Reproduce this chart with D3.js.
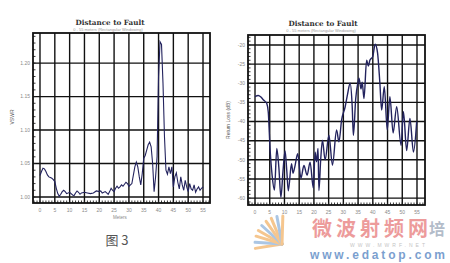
<!DOCTYPE html>
<html><head><meta charset="utf-8">
<script src="https://cdn.jsdelivr.net/npm/d3@7"></script>
<style>html,body{margin:0;padding:0;background:#fff;}svg{display:block;}</style>
</head><body>
<script>
// ---- data ----
const xTicks = [0,5,10,15,20,25,30,35,40,45,50,55];
const vswrTicks = [1.00,1.05,1.10,1.15,1.20];
const vswrTickLabels = ["1.00","1.05","1.10","1.15","1.20"];
const rlTicks = [-60,-55,-50,-45,-40,-35,-30,-25,-20];
const rlTickLabels = ["-60","-55","-50","-45","-40","-35","-30","-25","-20"];

const vswrMeters = [0,0.5,1,1.5,2,2.5,3,3.5,4,4.5,5,5.5,6,6.5,7,7.5,8,8.5,9,10,10.5,11,11.5,12,12.5,13,13.5,14,15,16,17,18,19,20,20.5,21,22,22.5,23,23.5,24,24.5,25,25.5,26,26.5,27,27.5,28,28.5,29,29.5,30,31,32,32.5,33,33.5,34,34.5,35,35.5,36,36.5,37,37.5,38,38.5,39,39.5,40,40.5,41,41.5,42,42.5,43,43.5,44,44.5,45,45.5,46,46.5,47,47.5,48,48.5,49,49.5,50,50.5,51,51.5,52,52.5,53,53.5,54,54.5,55];
const vswrValues = [1.032,1.038,1.043,1.042,1.038,1.033,1.030,1.029,1.028,1.026,1.023,1.013,1.005,1.001,1.004,1.008,1.010,1.008,1.005,1.007,1.005,1.003,1.002,1.006,1.009,1.007,1.004,1.006,1.007,1.006,1.005,1.006,1.009,1.008,1.009,1.006,1.008,1.006,1.004,1.008,1.013,1.010,1.008,1.013,1.016,1.013,1.015,1.018,1.016,1.019,1.022,1.020,1.016,1.020,1.045,1.052,1.045,1.030,1.018,1.035,1.058,1.062,1.070,1.078,1.082,1.075,1.050,1.008,1.030,1.060,1.180,1.232,1.228,1.170,1.090,1.040,1.034,1.045,1.035,1.045,1.015,1.030,1.036,1.022,1.012,1.030,1.018,1.010,1.025,1.015,1.008,1.020,1.012,1.010,1.018,1.007,1.012,1.015,1.010,1.013,1.015];

const rlMeters = [0,1.1,2,2.8,3.5,4,4.5,5.1,5.8,6.6,7.4,8.1,8.8,9.5,10.2,10.8,11.3,12.4,12.9,13.6,14.5,15.6,16.6,17.7,18.7,19.8,20.4,20.9,21.4,21.7,22.3,22.9,23.8,25.1,26.3,27.7,28.5,29.4,30.6,31.4,32.3,33.0,33.4,34.2,34.9,35.3,36.0,36.4,37.0,37.9,38.5,39.0,40.0,40.8,41.6,42.4,43.0,43.9,44.9,45.8,46.9,48.1,49.6,50.4,51.5,52.6,53.8,54.9];
const rlValues = [-33.5,-33.2,-33.6,-34.3,-34.8,-35.3,-37.5,-47,-54,-57.9,-47,-52,-59.8,-53,-47.7,-53,-58.1,-51,-53.5,-51.5,-48.4,-54.8,-51.5,-54,-50.6,-57.4,-48,-50.5,-47,-58,-50,-44.9,-50,-43.6,-51.4,-42.2,-45.3,-39.6,-36.2,-33,-30,-36,-43.6,-34,-30,-28.7,-31.5,-29.7,-34,-24,-25.5,-24,-23,-19.8,-22,-30,-37,-30.9,-42.2,-33.5,-43,-36.1,-46.2,-37.4,-47.6,-39.2,-48,-40];

// ---- drawing ----
const W = 450, H = 263;
const svg = d3.select("body").append("svg").attr("width", W).attr("height", H);
svg.append("rect").attr("width", W).attr("height", H).attr("fill", "#fff");

function drawChart(cfg) {
  const g = svg.append("g");
  const x = d3.scaleLinear().domain(cfg.xDomain).range([cfg.left, cfg.right]);
  const y = d3.scaleLinear().domain(cfg.yDomain).range([cfg.bottom, cfg.top]);
  g.selectAll(".vg").data(xTicks).enter().append("line")
    .attr("x1", d => x(d)).attr("x2", d => x(d))
    .attr("y1", cfg.top).attr("y2", cfg.bottom)
    .attr("stroke", "#111").attr("stroke-width", 1.4);
  g.selectAll(".hg").data(cfg.yTicks).enter().append("line")
    .attr("x1", cfg.left).attr("x2", cfg.right)
    .attr("y1", d => y(d)).attr("y2", d => y(d))
    .attr("stroke", "#111").attr("stroke-width", 1.4);
  const xm = d3.range(Math.ceil(cfg.xDomain[0]), cfg.xDomain[1], 1);
  g.selectAll(".xm").data(xm).enter().append("line")
    .attr("x1", d => x(d)).attr("x2", d => x(d))
    .attr("y1", cfg.bottom).attr("y2", cfg.bottom - 2.5)
    .attr("stroke", "#222").attr("stroke-width", 0.9);
  const ym = d3.range(cfg.yMinorStart, cfg.yDomain[1], cfg.yMinorStep);
  g.selectAll(".ym").data(ym).enter().append("line")
    .attr("x1", cfg.left).attr("x2", cfg.left + 2.5)
    .attr("y1", d => y(d)).attr("y2", d => y(d))
    .attr("stroke", "#222").attr("stroke-width", 0.9);
  const line = d3.line().x(d => x(d[0])).y(d => y(d[1])).curve(cfg.curve);
  g.append("path").datum(cfg.xs.map((m, i) => [m, cfg.ys[i]]))
    .attr("d", line).attr("fill", "none")
    .attr("stroke", "#23235e").attr("stroke-width", cfg.lw);
  g.append("rect").attr("x", cfg.left).attr("y", cfg.top)
    .attr("width", cfg.right - cfg.left).attr("height", cfg.bottom - cfg.top)
    .attr("fill", "none").attr("stroke", "#111").attr("stroke-width", 1.8);
  g.selectAll(".xl").data(xTicks).enter().append("text")
    .attr("x", d => x(d)).attr("y", cfg.bottom + 8.5)
    .attr("text-anchor", "middle").attr("font-family", "Liberation Sans, Arial, sans-serif")
    .attr("font-size", 5).attr("fill", "#8a8a8a").text(d => d);
  g.selectAll(".yl").data(cfg.yTicks).enter().append("text")
    .attr("x", cfg.left - 3).attr("y", d => y(d) + 1.7)
    .attr("text-anchor", "end").attr("font-family", "Liberation Sans, Arial, sans-serif")
    .attr("font-size", 5).attr("fill", "#8a8a8a").text((d, i) => cfg.yTickLabels[i]);
  g.append("text").attr("x", cfg.titleX).attr("y", cfg.titleY)
    .attr("text-anchor", "middle").attr("font-family", "DejaVu Serif, serif")
    .attr("font-weight", "bold").attr("font-size", 7.2).attr("fill", "#333")
    .text("Distance to Fault");
  g.append("text").attr("x", cfg.titleX - 2).attr("y", cfg.titleY + 6)
    .attr("text-anchor", "middle").attr("font-family", "Liberation Sans, Arial, sans-serif")
    .attr("font-size", 4).attr("fill", "#9a9a9a")
    .text("0 - 55 meters (Rectangular Windowing)");
  g.append("text")
    .attr("transform", `translate(${cfg.yLabelX},${cfg.yLabelY}) rotate(-90)`)
    .attr("text-anchor", "middle").attr("font-family", "Liberation Sans, Arial, sans-serif")
    .attr("font-size", 5).attr("fill", "#555").text(cfg.yLabel);
  if (cfg.xLabel) {
    g.append("text").attr("x", cfg.xLabelX).attr("y", cfg.bottom + 16)
      .attr("text-anchor", "middle").attr("font-family", "Liberation Sans, Arial, sans-serif")
      .attr("font-size", 4.5).attr("fill", "#8a8a8a").text(cfg.xLabel);
  }
}

drawChart({
  left: 33, right: 210, top: 33, bottom: 203,
  xDomain: [-2.36, 57.36], yDomain: [0.991, 1.245],
  yTicks: vswrTicks, yTickLabels: vswrTickLabels,
  yMinorStart: 1.00, yMinorStep: 0.01,
  xs: vswrMeters, ys: vswrValues, curve: d3.curveLinear, lw: 1.1,
  titleX: 110, titleY: 25, yLabel: "VSWR", yLabelX: 14, yLabelY: 117,
  xLabel: "Meters", xLabelX: 120
});

drawChart({
  left: 248, right: 425, top: 35, bottom: 205,
  xDomain: [-2.38, 57.72], yDomain: [-61.8, -17.4],
  yTicks: rlTicks, yTickLabels: rlTickLabels,
  yMinorStart: -61, yMinorStep: 1,
  xs: rlMeters, ys: rlValues, curve: d3.curveMonotoneX, lw: 1.4,
  titleX: 323, titleY: 26, yLabel: "Return Loss (dB)", yLabelX: 230, yLabelY: 120,
  xLabel: null
});

// caption
svg.append("text").attr("x", 117).attr("y", 245).attr("text-anchor", "middle")
  .attr("font-family", "Noto Sans CJK SC, sans-serif").attr("font-size", 13)
  .attr("fill", "#555").text("图 3");

// watermark
const wm = svg.append("g").attr("opacity", 0.75);
const rays = d3.range(9);
wm.selectAll(".ray").data(rays).enter().append("line")
  .attr("x1", 282).attr("y1", 244)
  .attr("x2", d => 282 + 27 * Math.cos(Math.PI * (0.95 + d * 0.07)))
  .attr("y2", d => 244 + 28 * Math.sin(Math.PI * (0.95 + d * 0.07)))
  .attr("stroke", d => d % 3 === 1 ? "#8fb4dc" : "#f2b46a").attr("stroke-width", 3)
  .attr("stroke-linecap", "round");
wm.append("text").attr("x", 312).attr("y", 236)
  .attr("font-family", "Noto Sans CJK SC, sans-serif").attr("font-weight", "bold")
  .attr("font-size", 20).attr("fill", "#e77a7a").attr("textLength", 116)
  .text("微波射频网");
wm.append("text").attr("x", 429).attr("y", 235)
  .attr("font-family", "Noto Sans CJK SC, sans-serif").attr("font-weight", "bold")
  .attr("font-size", 16).attr("fill", "#9aa6b8").text("培");
wm.append("text").attr("x", 350).attr("y", 246.5)
  .attr("font-family", "Liberation Sans, Arial, sans-serif")
  .attr("font-size", 5).attr("fill", "#b0b0b0").attr("textLength", 75)
  .text("WWW.MWRF.NET");
wm.append("text").attr("x", 310).attr("y", 259)
  .attr("font-family", "Liberation Sans, Arial, sans-serif").attr("font-weight", "bold")
  .attr("font-size", 12).attr("fill", "#4f7fc0").attr("textLength", 135)
  .text("www.edatop.com");
</script>
</body></html>
